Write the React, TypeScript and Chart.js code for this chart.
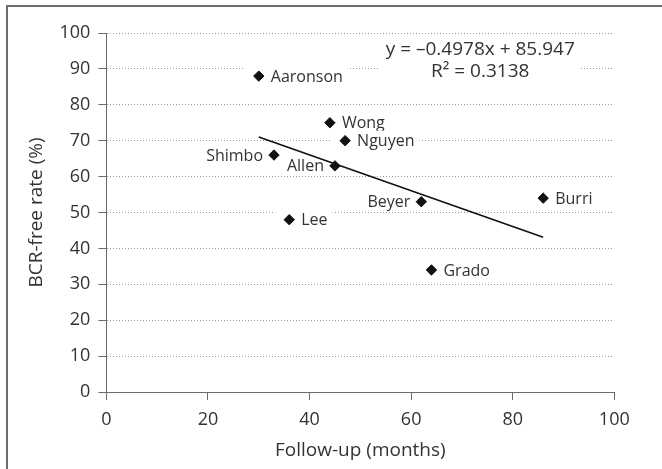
import React, { useEffect, useRef } from "react";
import { Chart, registerables } from "chart.js";

Chart.register(...registerables);

// ---- data ----
const studies = ["Aaronson", "Wong", "Nguyen", "Shimbo", "Allen", "Beyer", "Burri", "Lee", "Grado"];
const followUpMonths = [30, 44, 47, 33, 45, 62, 86, 36, 64];
const bcrFreeRate = [88, 75, 70, 66, 63, 53, 54, 48, 34];
const xTickValues = [0, 20, 40, 60, 80, 100];
const yTickValues = [0, 10, 20, 30, 40, 50, 60, 70, 80, 90, 100];
const trendSlope = -0.4978;
const trendIntercept = 85.947;
const trendR2 = 0.3138;
const xAxisTitle = "Follow-up (months)";
const yAxisTitle = "BCR-free rate (%)";

const FONT = '"Open Sans", "Noto Sans", sans-serif';
const TEXT = "#333333";
const AXIS = "#6b6b6b";
const leftLabelled = new Set(["Shimbo", "Allen", "Beyer"]);

const trendX = [Math.min(...followUpMonths), Math.max(...followUpMonths)];
const trendPoints = trendX.map((x) => ({ x, y: trendSlope * x + trendIntercept }));
const equationLines = [
  `y = \u2013${Math.abs(trendSlope)}x + ${trendIntercept}`,
  `R\u00B2 = ${trendR2}`,
];

const annotatePlugin = {
  id: "annotate",
  beforeDraw(chart: any) {
    const { ctx } = chart;
    ctx.save();
    ctx.fillStyle = "#6e6e6e";
    ctx.fillRect(6, 5, 662, 2);
    ctx.fillRect(6, 5, 2, 469);
    ctx.restore();
  },
  beforeDatasetsDraw(chart: any) {
    const { ctx } = chart;
    const xs = chart.scales.x;
    const ys = chart.scales.y;
    ctx.save();
    ctx.textBaseline = "middle";
    ctx.font = `16px ${FONT}`;
    studies.forEach((name, i) => {
      const px = xs.getPixelForValue(followUpMonths[i]);
      const py = ys.getPixelForValue(bcrFreeRate[i]);
      const w = ctx.measureText(name).width;
      const onLeft = leftLabelled.has(name);
      const tx = onLeft ? px - 11 : px + 12;
      const bx0 = onLeft ? tx - w - 4 : px - 14;
      const bx1 = onLeft ? px + 8 : tx + w + 5;
      ctx.fillStyle = "#ffffff";
      ctx.fillRect(bx0, py - 10, bx1 - bx0, 20);
      ctx.fillStyle = TEXT;
      ctx.textAlign = onLeft ? "right" : "left";
      ctx.fillText(name, tx, py + 1);
    });

    // trend-line equation
    ctx.font = `19px ${FONT}`;
    const cx = xs.getPixelForValue(73.6);
    const y1 = ys.getPixelForValue(95.6);
    const y2 = ys.getPixelForValue(89.5);
    const ew = Math.max(...equationLines.map((l) => ctx.measureText(l).width));
    ctx.fillStyle = "#ffffff";
    ctx.fillRect(cx - ew / 2 - 6, y1 - 11, ew + 12, y2 - y1 + 22);
    ctx.fillStyle = TEXT;
    ctx.textAlign = "center";
    ctx.fillText(equationLines[0], cx, y1 + 1);
    ctx.fillText(equationLines[1], cx, y2 + 1);
    ctx.restore();
  },
};

export default function App() {
  const canvasRef = useRef<HTMLCanvasElement | null>(null);

  useEffect(() => {
    document.body.style.margin = "0";
    const canvas = canvasRef.current;
    if (!canvas) return;
    const chart = new Chart(canvas, {
      type: "scatter",
      data: {
        datasets: [
          {
            label: "Studies",
            data: followUpMonths.map((x, i) => ({ x, y: bcrFreeRate[i] })),
            pointStyle: "rectRot",
            pointRadius: 5.2,
            pointBorderWidth: 1,
            backgroundColor: "#111111",
            borderColor: "#111111",
            showLine: false,
          },
          {
            label: "Trend",
            data: trendPoints,
            showLine: true,
            pointRadius: 0,
            borderColor: "#111111",
            borderWidth: 1.6,
            fill: false,
          },
        ],
      },
      options: {
        responsive: false,
        animation: false,
        devicePixelRatio: 1,
        layout: { padding: { left: 0, top: 33, right: 47.7, bottom: 0 } },
        plugins: {
          legend: { display: false },
          tooltip: { enabled: false },
        },
        scales: {
          x: {
            type: "linear",
            min: 0,
            max: 100,
            afterFit(scale: any) {
              scale.height = 77;
            },
            afterBuildTicks(scale: any) {
              scale.ticks = xTickValues.map((v) => ({ value: v }));
            },
            ticks: {
              font: { family: FONT, size: 18 },
              color: TEXT,
              padding: 9,
              maxRotation: 0,
            },
            grid: {
              color: "transparent",
              tickColor: AXIS,
              tickLength: 8,
              tickWidth: 1,
            },
            border: { display: true, color: AXIS, width: 1 },
            title: {
              display: true,
              text: xAxisTitle,
              font: { family: FONT, size: 19 },
              color: TEXT,
              padding: { top: 0, bottom: 6.6 },
            },
          },
          y: {
            type: "linear",
            min: 0,
            max: 100,
            afterFit(scale: any) {
              scale.width = 106.4;
            },
            afterBuildTicks(scale: any) {
              scale.ticks = yTickValues.map((v) => ({ value: v }));
            },
            ticks: {
              font: { family: FONT, size: 18 },
              color: TEXT,
              padding: 8,
            },
            grid: {
              color: "#9a9a9a",
              lineWidth: 1,
              tickColor: AXIS,
              tickLength: 8,
              tickWidth: 1,
            },
            border: { display: true, color: AXIS, width: 1, dash: [1, 2] },
            title: {
              display: true,
              text: yAxisTitle,
              font: { family: FONT, size: 19 },
              color: TEXT,
              padding: { top: 25.6, bottom: 0 },
            },
          },
        },
      },
      plugins: [annotatePlugin],
    } as any);
    return () => chart.destroy();
  }, []);

  return (
    <div style={{ width: 662, height: 469, position: "relative" }}>
      <canvas ref={canvasRef} width={662} height={469} style={{ display: "block" }} />
    </div>
  );
}
